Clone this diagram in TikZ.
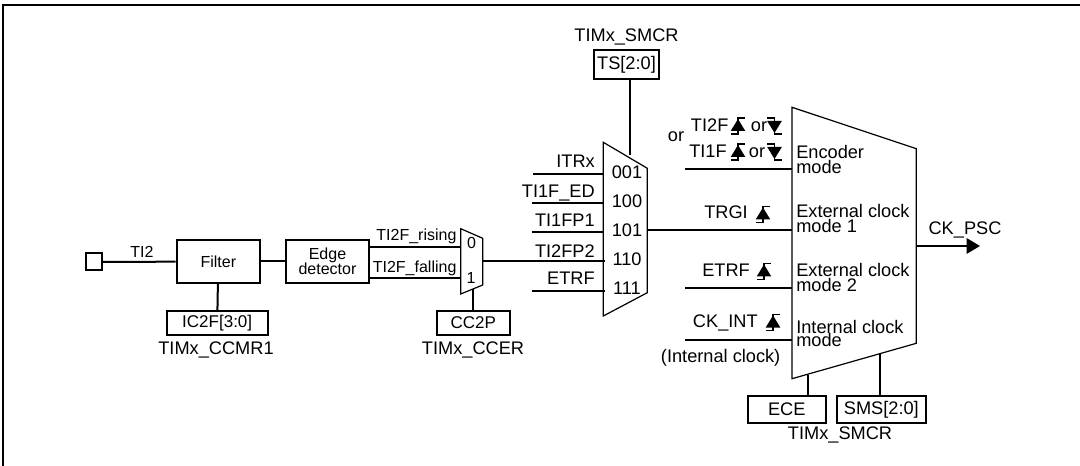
\documentclass[tikz,border=0pt]{standalone}
\usepackage{fontspec}
\setmainfont{Liberation Sans}
\usetikzlibrary{arrows.meta}
\tikzset{
  wire/.style={line width=1.5pt},
  muxline/.style={line width=0.9pt, line join=miter},
  regbox/.style={draw, line width=1.5pt, inner sep=0pt},
  lbl/.style={font=\fontsize{13.65}{11.25}\selectfont, inner sep=0pt},
  lblmid/.style={font=\fontsize{12.75}{11.25}\selectfont, inner sep=0pt},
  lblsmall/.style={font=\fontsize{12}{11.25}\selectfont, inner sep=0pt},
  risingedge/.pic={
    \fill (-7.3,5) -- (0,-7) -- (7.3,5) -- cycle;
    \draw[line width=1pt] (-7.3,8) -- (0,8) -- (0,-8) -- (7.3,-8);
  },
  fallingedge/.pic={
    \fill (-7.3,-5) -- (0,7) -- (7.3,-5) -- cycle;
    \draw[line width=1pt] (-7.3,-8) -- (0,-8) -- (0,8) -- (7.3,8);
  },
}

\begin{document}
\begin{tikzpicture}[x=0.75pt, y=-0.75pt]
\useasboundingbox (0,0) rectangle (1080,466);

% Frame
\draw[line width=1.5pt] (3,466) -- (3,5.5) -- (1080,5.5);

% Input chain
\node[regbox, minimum width=12pt, minimum height=12.75pt] (pin) at (94,262) {};
\node[regbox, lblsmall, minimum width=62.5pt, minimum height=32.25pt] (filter) at (218.3,261.5) {Filter};
\node[regbox, lblsmall, align=center, minimum width=62.5pt, minimum height=32.25pt] (edgedet) at (327.5,261.5) {Edge\\detector};
\node[regbox, lblmid, minimum width=75.75pt, minimum height=18.25pt] (icf) at (217.2,323) {IC2F[3:0]};
\node[regbox, lblmid, minimum width=55pt, minimum height=18.25pt] (ccp) at (473.3,323) {CC2P};
\node[lbl, anchor=base] (ccmr) at (216,354) {TIMx\_CCMR1};
\node[lbl, anchor=base] (ccer) at (473,354) {TIMx\_CCER};
\node[lblsmall, anchor=base] (tilabel) at (142,257.7) {TI2};

\draw[wire] (pin) -- (filter);
\draw[wire] (filter) -- (edgedet);
\draw[wire] (filter) -- (icf);

% Polarity selector
\draw[muxline] (460.7,228.7) -- (482.7,238.3) -- (482.7,285) -- (460.7,294) -- cycle;
\coordinate (polzero) at (460.7,246.7);
\coordinate (polone) at (460.7,278);
\coordinate (polout) at (482.7,261);
\coordinate (polsel) at (473,289.5);
\node[lblsmall, anchor=base east] (risinglabel) at (456.7,240.7) {TI2F\_rising};
\node[lblsmall, anchor=base east] (fallinglabel) at (456.7,272.7) {TI2F\_falling};
\node[lblsmall, anchor=base] (polzerotxt) at (471.5,248.3) {0};
\node[lblsmall, anchor=base] (polonetxt) at (471,283.3) {1};
\draw[wire] (edgedet.east |- polzero) -- (polzero);
\draw[wire] (edgedet.east |- polone) -- (polone);
\draw[wire] (polsel) -- (ccp.north -| polsel);

% Trigger selector
\draw[muxline] (603.3,142.3) -- (647.3,168.3) -- (647.3,292.7) -- (603.3,316) -- cycle;
\coordinate (itrin) at (603.3,173.7);
\coordinate (edin) at (603.3,202.7);
\coordinate (fpain) at (603.3,231.7);
\coordinate (fpbin) at (605,261);
\coordinate (etrin) at (605,291);
\coordinate (itrstart) at (533,173.7);
\coordinate (edstart) at (531.7,202.7);
\coordinate (fpastart) at (531.7,231.7);
\coordinate (etrstart) at (531.7,291);
\coordinate (trigout) at (647.3,230.5);
\coordinate (trigsel) at (630,155);
\draw[wire] (itrstart) -- (itrin);
\draw[wire] (edstart) -- (edin);
\draw[wire] (fpastart) -- (fpain);
\draw[wire] (polout) -- (fpbin);
\draw[wire] (etrstart) -- (etrin);
\node[lbl, anchor=base east] (itrlabel) at (595,168) {ITRx};
\node[lbl, anchor=base east] (edlabel) at (595,198) {TI1F\_ED};
\node[lbl, anchor=base east] (fpalabel) at (595,227) {TI1FP1};
\node[lbl, anchor=base east] (fpblabel) at (595,258) {TI2FP2};
\node[lbl, anchor=base east] (etrlabel) at (595,285) {ETRF};
\node[lbl, anchor=base] (sela) at (627,179) {001};
\node[lbl, anchor=base] (selb) at (627,208) {100};
\node[lbl, anchor=base] (selc) at (627,237) {101};
\node[lbl, anchor=base] (seld) at (627,266) {110};
\node[lbl, anchor=base] (sele) at (627,295) {111};

\node[lbl, anchor=base] (smcrtop) at (626.5,42) {TIMx\_SMCR};
\node[regbox, lbl, minimum width=48.75pt, minimum height=21.75pt] (ts) at (626.5,64.5) {TS[2:0]};
\draw[wire] (ts.south -| trigsel) -- (trigsel);

% Mode block
\draw[muxline] (792,107.3) -- (916.3,148.7) -- (916.3,343.3) -- (792,378.7) -- cycle;
\coordinate (encin) at (792,169);
\coordinate (extain) at (792,230.5);
\coordinate (extbin) at (792,288);
\coordinate (intin) at (792,340);
\coordinate (encstart) at (685,169);
\coordinate (extbstart) at (685,288);
\coordinate (intstart) at (685,340);
\coordinate (modeout) at (916.3,246);
\coordinate (pscend) at (980,246);
\coordinate (ecetap) at (808,375);
\coordinate (smstap) at (880,354);
\draw[wire] (encstart) -- (encin);
\draw[wire] (trigout) -- (extain);
\draw[wire] (extbstart) -- (extbin);
\draw[wire] (intstart) -- (intin);
\draw[wire, -{Triangle[length=10pt,width=11.5pt]}] (modeout) -- (pscend);

\node[lbl, align=left, anchor=base west] (encmode) at (796,174) {Encoder\\mode};
\node[lbl, align=left, anchor=base west] (extamode) at (796,232.7) {External clock\\mode 1};
\node[lbl, align=left, anchor=base west] (extbmode) at (796,291.7) {External clock\\mode 2};
\node[lbl, align=left, anchor=base west] (intmode) at (796,346.7) {Internal clock\\[-1pt]mode};

\node[lbl, anchor=base] (pscl) at (965,235) {CK\_PSC};
\node[regbox, lbl, minimum width=58.75pt, minimum height=20pt] (ece) at (786.8,409.3) {ECE};
\node[regbox, lbl, minimum width=67pt, minimum height=20pt] (sms) at (881.3,409.3) {SMS[2:0]};
\node[lbl, anchor=base] (smcrbot) at (840,439) {TIMx\_SMCR};
\draw[wire] (ecetap) -- (ece.north -| ecetap);
\draw[wire] (smstap) -- (sms.north -| smstap);

% Clock sources
\node[lbl, anchor=center] (ortxt) at (676,137) {or};
\node[lbl, anchor=base west] (titwo) at (690.7,132) {TI2F};
\node[lbl, anchor=base west] (orup) at (750.7,132) {or};
\node[lbl, anchor=base west] (tione) at (689,158) {TI1F};
\node[lbl, anchor=base west] (ordown) at (748.7,158) {or};
\pic at (738,126) {risingedge};
\pic at (774.5,126) {fallingedge};
\pic at (738,152) {risingedge};
\pic at (774.5,152) {fallingedge};

\node[lbl, anchor=base west] (trgi) at (704,219) {TRGI};
\pic at (763,214.5) {risingedge};
\node[lbl, anchor=base west] (etrf) at (702,276.7) {ETRF};
\pic at (764,271.5) {risingedge};
\node[lbl, anchor=base west] (ckint) at (692.7,327.3) {CK\_INT};
\pic at (773,322.5) {risingedge};
\node[lbl, anchor=base west] (intclk) at (660.7,362) {(Internal clock)};

\end{tikzpicture}
\end{document}
